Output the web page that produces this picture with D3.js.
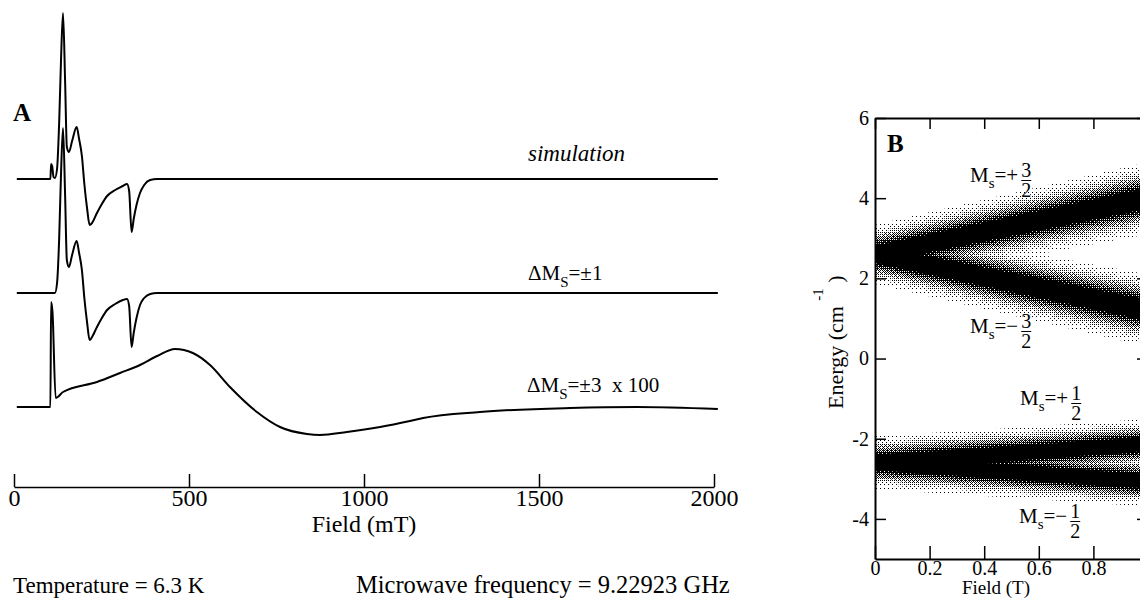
<!DOCTYPE html>
<html><head><meta charset="utf-8">
<script src="https://cdn.jsdelivr.net/npm/d3@7"></script>
<style>
body{margin:0;background:#fff;}
svg{display:block;}
text{font-family:"Liberation Serif","Times New Roman",serif;fill:#000;}
</style></head><body>
<svg id="chart" width="1140" height="598"></svg>
<script>
// ---------- Panel A data (field in mT, intensity in arbitrary units) ----------
const simField  = [8, 104, 106, 109, 113, 117, 123, 129, 134, 140, 146, 151, 157, 166, 179, 186, 194, 201, 209, 216, 223, 237, 251, 266, 289, 311, 323, 329, 336, 342, 350, 360, 372, 389, 409, 2011];
const simValues = [0, 0, 1.5, 1.3, 0.2, 0.1, 1.0, 5.6, 11.5, 16.6, 9.8, 3.2, 2.7, 3.8, 5.2, 4.0, 2.3, -0.5, -3.0, -4.6, -4.4, -3.4, -2.5, -1.7, -1.1, -0.7, -0.5, -1.2, -5.3, -4.0, -2.6, -1.4, -0.6, -0.1, 0, 0];

const pm1Field  = [8, 111, 117, 123, 129, 134, 140, 146, 151, 157, 166, 179, 186, 194, 201, 209, 216, 223, 237, 251, 266, 289, 311, 323, 329, 336, 342, 350, 360, 372, 389, 409, 2011];
const pm1Values = [0, 0, 0, 1.0, 5.4, 11.5, 16.5, 9.8, 3.3, 2.6, 3.8, 5.2, 4.0, 2.3, -0.5, -3.0, -4.7, -4.4, -3.4, -2.5, -1.7, -1.1, -0.7, -0.6, -1.3, -5.4, -4.0, -2.5, -1.2, -0.5, -0.1, 0, 0];

const pm3Field  = [8, 104, 106, 110, 119, 125, 140, 237, 303, 360, 409, 460, 511, 560, 617, 694, 760, 837, 874, 951, 1046, 1131, 1169, 1331, 1589, 1780, 2011];
const pm3Values = [0, 0, 10.5, 9.5, 0.9, 1.0, 1.5, 2.5, 3.4, 4.2, 5.1, 5.8, 5.4, 4.2, 2.0, -0.5, -2.0, -2.7, -2.8, -2.5, -2.0, -1.4, -1.1, -0.5, -0.1, 0.0, -0.2];

const traceOffsets = [30.8, 19.4, 8.0];   // vertical stacking of the three traces
const fieldMajorTicks = [0, 500, 1000, 1500, 2000];

// ---------- Panel B data (field in T, energy in cm^-1) ----------
const bandField = [0, 0.5, 1.0];
const ePlus32  = [2.6, 3.3, 4.0];
const eMinus32 = [2.6, 1.9, 1.2];
const ePlus12  = [-2.6, -2.37, -2.13];
const eMinus12 = [-2.6, -2.83, -3.07];
const spread32 = [0.74, 0.82, 0.9];   // visible half-width of the D-strain distribution
const spread12 = [0.66, 0.64, 0.62];
const energyTicks = [-4, -2, 0, 2, 4, 6];
const fieldBTicks = [0, 0.2, 0.4, 0.6, 0.8];

const svg = d3.select("#chart");
const defs = svg.append("defs");

// ================= Panel A =================
const xA = d3.scaleLinear().domain([0, 2000]).range([14, 714]);
const yA = d3.scaleLinear().domain([0, 48.7]).range([487, 0]);

const traces = [
  {f: simField, v: simValues, off: traceOffsets[0]},
  {f: pm1Field, v: pm1Values, off: traceOffsets[1]},
  {f: pm3Field, v: pm3Values, off: traceOffsets[2]}
];
traces.forEach(t => {
  const pts = t.f.map((f, i) => [f, t.v[i] + t.off]);
  svg.append("path")
    .attr("d", d3.line().x(d => xA(d[0])).y(d => yA(d[1])).curve(d3.curveMonotoneX)(pts))
    .attr("fill", "none").attr("stroke", "#000").attr("stroke-width", 2).attr("stroke-linejoin", "round");
});

// axis A
const gAxA = svg.append("g").attr("transform", `translate(0,${yA(0)})`);
gAxA.call(d3.axisBottom(xA).tickValues(d3.range(0, 2001, 100)).tickSize(-6).tickFormat(""))
  .call(g => g.select(".domain").remove());
gAxA.call(d3.axisBottom(xA).tickValues(fieldMajorTicks).tickSize(-13).tickSizeOuter(0).tickPadding(2).tickFormat(d => String(d)));
gAxA.selectAll("line").attr("stroke-width", 1.5);
gAxA.select(".domain").attr("stroke-width", 1.5);
gAxA.selectAll("text").style("font-size", "24px").style("font-family", '"Liberation Serif",serif');

svg.append("text").attr("x", 364).attr("y", 532).attr("text-anchor", "middle").style("font-size", "24px").text("Field (mT)");

svg.append("text").attr("x", 13).attr("y", 121).style("font-size", "25px").style("font-weight", "bold").text("A");

svg.append("text").attr("x", 528).attr("y", 161).style("font-size", "23px").style("font-style", "italic").text("simulation");

function dmsLabel(x, y, rest) {
  const t = svg.append("text").attr("x", x).attr("y", y).style("font-size", "21px").style("white-space", "pre");
  t.append("tspan").text("\u0394M");
  t.append("tspan").attr("dy", 7).style("font-size", "15px").text("S");
  t.append("tspan").attr("dy", -7).text(rest);
}
dmsLabel(528, 280, "=\u00b11");
dmsLabel(527, 392, "=\u00b13  x 100");

svg.append("text").attr("x", 13).attr("y", 593).style("font-size", "23px").text("Temperature = 6.3 K");
svg.append("text").attr("x", 356).attr("y", 593).style("font-size", "24.5px").text("Microwave frequency = 9.22923 GHz");

// ================= Panel B =================
const xB = d3.scaleLinear().domain([0, 1]).range([875, 1148]);
const yB = d3.scaleLinear().domain([-5, 6]).range([559, 118]);

svg.append("clipPath").attr("id", "clipB").append("rect")
  .attr("x", xB(0)).attr("y", yB(6)).attr("width", xB(1) - xB(0)).attr("height", yB(-5) - yB(6));
const gBands = svg.append("g").attr("clip-path", "url(#clipB)");

// ordered-dither halftone: one 4x4 pattern per threshold level
const bayer = [[0, 8, 2, 10], [12, 4, 14, 6], [3, 11, 1, 9], [15, 7, 13, 5]];
for (let j = 0; j < 16; j++) {
  const p = defs.append("pattern").attr("id", "dith" + j).attr("patternUnits", "userSpaceOnUse")
    .attr("x", 0).attr("y", 0).attr("width", 4).attr("height", 4);
  for (let r = 0; r < 4; r++) for (let c = 0; c < 4; c++) {
    if (bayer[r][c] === j) p.append("rect").attr("x", c).attr("y", r).attr("width", 1).attr("height", 1)
      .attr("fill", "#000").attr("shape-rendering", "crispEdges");
  }
}
const levels = [
  {e: ePlus32, s: spread32}, {e: eMinus32, s: spread32},
  {e: ePlus12, s: spread12}, {e: eMinus12, s: spread12}
];
const peak = 1.3, tMin = 0.5 / 16;
const norm = Math.sqrt(2 * Math.log(peak / tMin));
levels.forEach(L => {
  const pts = bandField.map((f, i) => ({f, e: L.e[i], s: L.s[i]}));
  for (let j = 0; j < 16; j++) {
    const t = (j + 0.5) / 16;
    const frac = Math.sqrt(2 * Math.log(peak / t)) / norm;
    gBands.append("path")
      .attr("d", d3.area().x(d => xB(d.f)).y0(d => yB(d.e - d.s * frac)).y1(d => yB(d.e + d.s * frac))(pts))
      .attr("fill", `url(#dith${j})`);
  }
});

// frame + ticks
const gL = svg.append("g").attr("transform", `translate(${xB(0)},0)`);
gL.call(d3.axisLeft(yB).tickValues([-5, -3, -1, 1, 3, 5]).tickSize(-6).tickFormat("")).call(g => g.select(".domain").remove());
gL.call(d3.axisLeft(yB).tickValues(energyTicks).tickSize(-11).tickSizeOuter(0).tickPadding(6).tickFormat(d => String(d)));
const gR = svg.append("g").attr("transform", `translate(${xB(1)},0)`);
gR.call(d3.axisRight(yB).tickValues([-5, -3, -1, 1, 3, 5]).tickSize(-6).tickFormat("")).call(g => g.select(".domain").remove());
gR.call(d3.axisRight(yB).tickValues(energyTicks).tickSize(-11).tickSizeOuter(0).tickFormat(""));
const gT = svg.append("g").attr("transform", `translate(0,${yB(6)})`);
gT.call(d3.axisTop(xB).tickValues([0.1, 0.3, 0.5, 0.7, 0.9]).tickSize(-6).tickFormat("")).call(g => g.select(".domain").remove());
gT.call(d3.axisTop(xB).tickValues([0, 0.2, 0.4, 0.6, 0.8, 1]).tickSize(-11).tickSizeOuter(0).tickFormat(""));
const gBt = svg.append("g").attr("transform", `translate(0,${yB(-5)})`);
gBt.call(d3.axisBottom(xB).tickValues([0.1, 0.3, 0.5, 0.7, 0.9]).tickSize(-6).tickFormat("")).call(g => g.select(".domain").remove());
gBt.call(d3.axisBottom(xB).tickValues(fieldBTicks).tickSize(-13).tickSizeOuter(0).tickPadding(2).tickFormat(d => String(d)));
[gL, gR, gT, gBt].forEach(g => {
  g.selectAll("line").attr("stroke-width", 1.5);
  g.selectAll(".domain").attr("stroke-width", 2);
  g.selectAll("text").style("font-size", "20px").style("font-family", '"Liberation Serif",serif');
});

svg.append("text").attr("x", 887).attr("y", 152).style("font-size", "25px").style("font-weight", "bold").text("B");

const eLab = svg.append("text").attr("transform", "translate(843,409) rotate(-90)").style("font-size", "22px").style("white-space", "pre");
eLab.append("tspan").text("Energy (cm ");
eLab.append("tspan").attr("dy", -20).style("font-size", "15px").text("-1");
eLab.append("tspan").attr("dy", 20).text(" )");

svg.append("text").attr("x", 996).attr("y", 594).attr("text-anchor", "middle").style("font-size", "19px").text("Field (T)");

function msLabel(x, y, sign, num) {
  const t = svg.append("text").attr("x", x).attr("y", y).style("font-size", "21px");
  t.append("tspan").text("M");
  t.append("tspan").attr("dy", 6).style("font-size", "15px").text("s");
  t.append("tspan").attr("dy", -6).text("=" + sign);
  const w = t.node().getComputedTextLength();
  const fx = x + w + 8;
  svg.append("text").attr("x", fx).attr("y", y - 5).attr("text-anchor", "middle").style("font-size", "20px").text(num);
  svg.append("line").attr("x1", fx - 5).attr("x2", fx + 5).attr("y1", y - 1.5).attr("y2", y - 1.5).attr("stroke", "#000").attr("stroke-width", 1);
  svg.append("text").attr("x", fx).attr("y", y + 15).attr("text-anchor", "middle").style("font-size", "20px").text("2");
}
msLabel(970, 182, "+", "3");
msLabel(970, 333, "\u2212", "3");
msLabel(1020, 405, "+", "1");
msLabel(1019, 523, "\u2212 ", "1");
</script>
</body></html>
